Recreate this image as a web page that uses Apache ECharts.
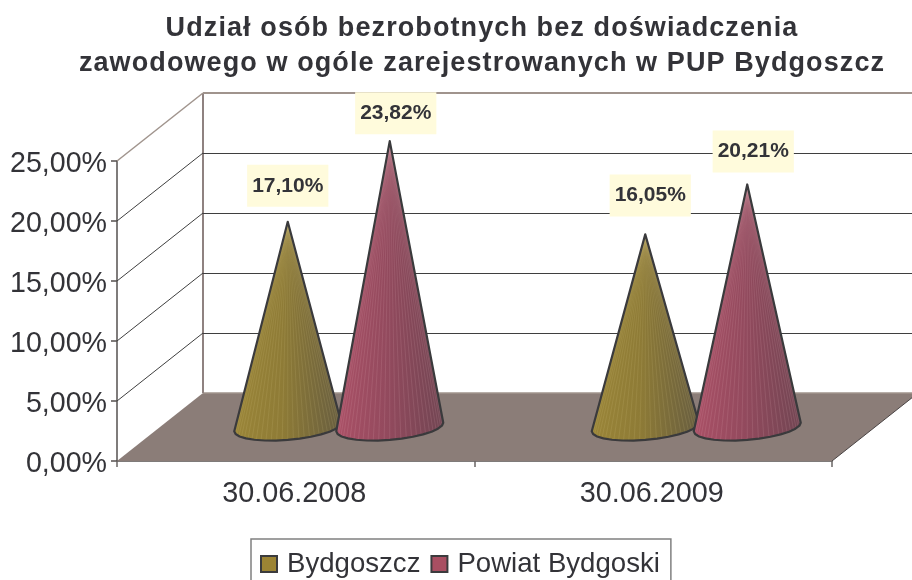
<!DOCTYPE html>
<html><head><meta charset="utf-8">
<style>html,body{margin:0;padding:0;background:#fff}#c{width:912px;height:580px}</style>
<script src="https://cdn.jsdelivr.net/npm/echarts@6/dist/echarts.min.js"></script>
</head><body><div id="c"></div>
<script>
const categories = ['30.06.2008', '30.06.2009'];
const bydgoszcz = [17.10, 16.05];
const powiat = [23.82, 20.21];
const yTicks = [5, 10, 15, 20, 25];
const seriesNames = ['Bydgoszcz', 'Powiat Bydgoski'];

const DX = 86, DY = 68;           // oblique depth of the 3D box
const MX = DX / 2, MY = DY / 2;   // cones stand at mid depth
const FONT = '"Liberation Sans", Arial, sans-serif';
const labelNudge = [[[0, -36], [5, -39]], [[6, -28], [6, -33]]];
const TITLE_LAYER = 10;

const pct = v => v.toFixed(2).replace('.', ',') + '%';

function cone(colors, stripe, sIdx, side) {
  return function (params, api) {
    const i = api.value(0), v = api.value(1);
    const top = api.coord([i, v]), base = api.coord([i, 0]);
    const cx = base[0] + MX + side * 51, cy = base[1] - MY;
    const ax = cx, ay = top[1] - MY;
    const rx = 53.5, ry = 12.9, tilt = 0.08;
    const pt = t => [cx + rx * Math.cos(t), cy + ry * Math.sin(t) - tilt * rx * Math.cos(t)];
    const outline = [[ax, ay]];
    for (let k = 0; k <= 14; k++) outline.push(pt(Math.PI * k / 14));
    const children = [{
      type: 'polygon', shape: { points: outline },
      style: {
        fill: new echarts.graphic.LinearGradient(0, 0, 1, 0, [
          { offset: 0, color: colors[0] }, { offset: 0.45, color: colors[1] }, { offset: 1, color: colors[2] }
        ])
      }
    }];
    for (let k = 1; k < 30; k++) {
      const p = pt(Math.PI * k / 30);
      children.push({
        type: 'line', shape: { x1: ax, y1: ay, x2: p[0], y2: p[1] },
        style: { stroke: stripe, lineWidth: 1 }, silent: true
      });
    }
    children.push({
      type: 'polygon', shape: { points: outline },
      style: { fill: 'none', stroke: '#3a3a3c', lineWidth: 2.2, lineJoin: 'round' }
    });
    return { type: 'group', children };
  };
}

function labels(sIdx, side) {
  return function (params, api) {
    const i = api.value(0), v = api.value(1);
    const top = api.coord([i, v]), base = api.coord([i, 0]);
    const n = labelNudge[sIdx][i];
    return {
      type: 'text', z2: 100,
      style: {
        x: base[0] + MX + side * 51 + n[0], y: top[1] - MY + n[1],
        text: pct(v), align: 'center', verticalAlign: 'middle',
        font: 'bold 21px ' + FONT, fill: '#333338',
        backgroundColor: '#fffbdc', padding: [11, 5, 10, 5]
      }
    };
  };
}

const walls = {
  type: 'custom', coordinateSystem: 'cartesian2d', silent: true, clip: false, z: 1,
  data: [[0, 0]], encode: { x: 0, y: 1 }, legendHoverLink: false,
  renderItem: function (params, api) {
    const g = params.coordSys;
    const y0 = api.coord([0, 0])[1], y25 = api.coord([0, 25])[1];
    const xL = g.x, xR = g.x + g.width;
    const taupe = '#a0948d';
    return {
      type: 'group', children: [
        { type: 'polygon', shape: { points: [[xL, y0], [xR, y0], [xR + DX, y0 - DY], [xL + DX, y0 - DY]] }, style: { fill: '#8b7d78' } },
        { type: 'line', shape: { x1: xL + DX, y1: y0 - DY, x2: xR + DX, y2: y0 - DY }, style: { stroke: taupe, lineWidth: 1.5 } },
        { type: 'line', shape: { x1: xR, y1: y0, x2: xR + DX, y2: y0 - DY }, style: { stroke: '#4a4444', lineWidth: 1 } },
        { type: 'line', shape: { x1: xL + DX, y1: y0 - DY, x2: xL + DX, y2: y25 - DY }, style: { stroke: '#8f8280', lineWidth: 2 } },
        { type: 'line', shape: { x1: xL + DX, y1: y25 - DY, x2: xR + DX, y2: y25 - DY }, style: { stroke: taupe, lineWidth: 2 } },
        { type: 'line', shape: { x1: xL, y1: y25, x2: xL + DX, y2: y25 - DY }, style: { stroke: taupe, lineWidth: 1.5 } }
      ]
    };
  }
};

const gridLines = {
  type: 'custom', coordinateSystem: 'cartesian2d', silent: true, clip: false, z: 1,
  data: yTicks.filter(v => v < 25).map(v => [0, v]), encode: { x: 0, y: 1 },
  renderItem: function (params, api) {
    const g = params.coordSys, y = api.coord([0, api.value(1)])[1];
    return {
      type: 'group', children: [
        { type: 'line', shape: { x1: g.x, y1: y, x2: g.x + DX, y2: y - DY }, style: { stroke: '#3f3f3f', lineWidth: 1 } },
        { type: 'line', shape: { x1: g.x + DX, y1: Math.round(y - DY) + 0.5, x2: g.x + g.width + DX, y2: Math.round(y - DY) + 0.5 }, style: { stroke: '#3f3f3f', lineWidth: 1.2 } }
      ]
    };
  }
};

const mk = arr => arr.map((v, i) => [i, v]);
const olive = '#9c8434', rose = '#a94f62';

const option = {
  animation: false,
  backgroundColor: '#ffffff',
  title: {
    text: 'Udział osób bezrobotnych bez doświadczenia\nzawodowego w ogóle zarejestrowanych w PUP Bydgoszcz',
    left: 477, top: 6, textAlign: 'center', zlevel: TITLE_LAYER,
    textStyle: { fontFamily: FONT, fontSize: 27, fontWeight: 'bold', color: '#333338', lineHeight: 35 }
  },
  grid: { left: 117, top: 161, width: 715, height: 300 },
  xAxis: {
    type: 'category', data: categories,
    axisLine: { lineStyle: { color: '#55504f', width: 1.5 } },
    axisTick: { show: true, length: 6, lineStyle: { color: '#6a6564', width: 1.5 } },
    axisLabel: { fontFamily: FONT, fontSize: 28.8, color: '#333338', margin: 19, padding: [0, 3, 0, 0] },
    splitLine: { show: false }
  },
  yAxis: {
    type: 'value', min: 0, max: 25, interval: 5,
    axisLine: { show: true, lineStyle: { color: '#55504f', width: 1.5 } },
    axisTick: { show: true, length: 6, lineStyle: { color: '#55504f', width: 1.5 } },
    axisLabel: { fontFamily: FONT, fontSize: 28.6, color: '#333338', margin: 10, verticalAlign: 'top', lineHeight: 6, formatter: pct },
    splitLine: { show: false }
  },
  legend: {
    data: seriesNames, left: 251, top: 539, orient: 'horizontal',
    padding: [11, 11, 33, 9], itemGap: 10, itemWidth: 16, itemHeight: 16,
    borderColor: '#808080', borderWidth: 1.5, borderRadius: 0, backgroundColor: '#fff',
    icon: 'rect',
    textStyle: { fontFamily: FONT, fontSize: 27.6, color: '#333338', padding: [0, 0, 0, 5] }
  },
  series: [
    walls, gridLines,
    {
      name: seriesNames[0], type: 'custom', coordinateSystem: 'cartesian2d', clip: false, z: 3,
      data: mk(bydgoszcz), encode: { x: 0, y: 1 },
      itemStyle: { color: olive, borderColor: '#3b3b3d', borderWidth: 2 },
      renderItem: cone(['#9a8538', '#8e7b36', '#675d40'], 'rgba(225,205,150,0.13)', 0, -1)
    },
    {
      name: seriesNames[1], type: 'custom', coordinateSystem: 'cartesian2d', clip: false, z: 4,
      data: mk(powiat), encode: { x: 0, y: 1 },
      itemStyle: { color: rose, borderColor: '#3b3b3d', borderWidth: 2 },
      renderItem: cone(['#aa5066', '#944a5e', '#714552'], 'rgba(240,190,200,0.13)', 1, 1)
    },
    {
      type: 'custom', coordinateSystem: 'cartesian2d', clip: false, z: 6, silent: true,
      data: mk(bydgoszcz), encode: { x: 0, y: 1 }, renderItem: labels(0, -1)
    },
    {
      type: 'custom', coordinateSystem: 'cartesian2d', clip: false, z: 6, silent: true,
      data: mk(powiat), encode: { x: 0, y: 1 }, renderItem: labels(1, 1)
    }
  ]
};
const chart = echarts.init(document.getElementById('c'), null, { renderer: 'canvas' });
// the reference's title is set with slightly open tracking
try {
  const layer = chart.getZr().painter.getLayer(TITLE_LAYER);
  layer.ctx.letterSpacing = '1.1px';
} catch (e) {}
chart.setOption(option);
</script></body></html>
